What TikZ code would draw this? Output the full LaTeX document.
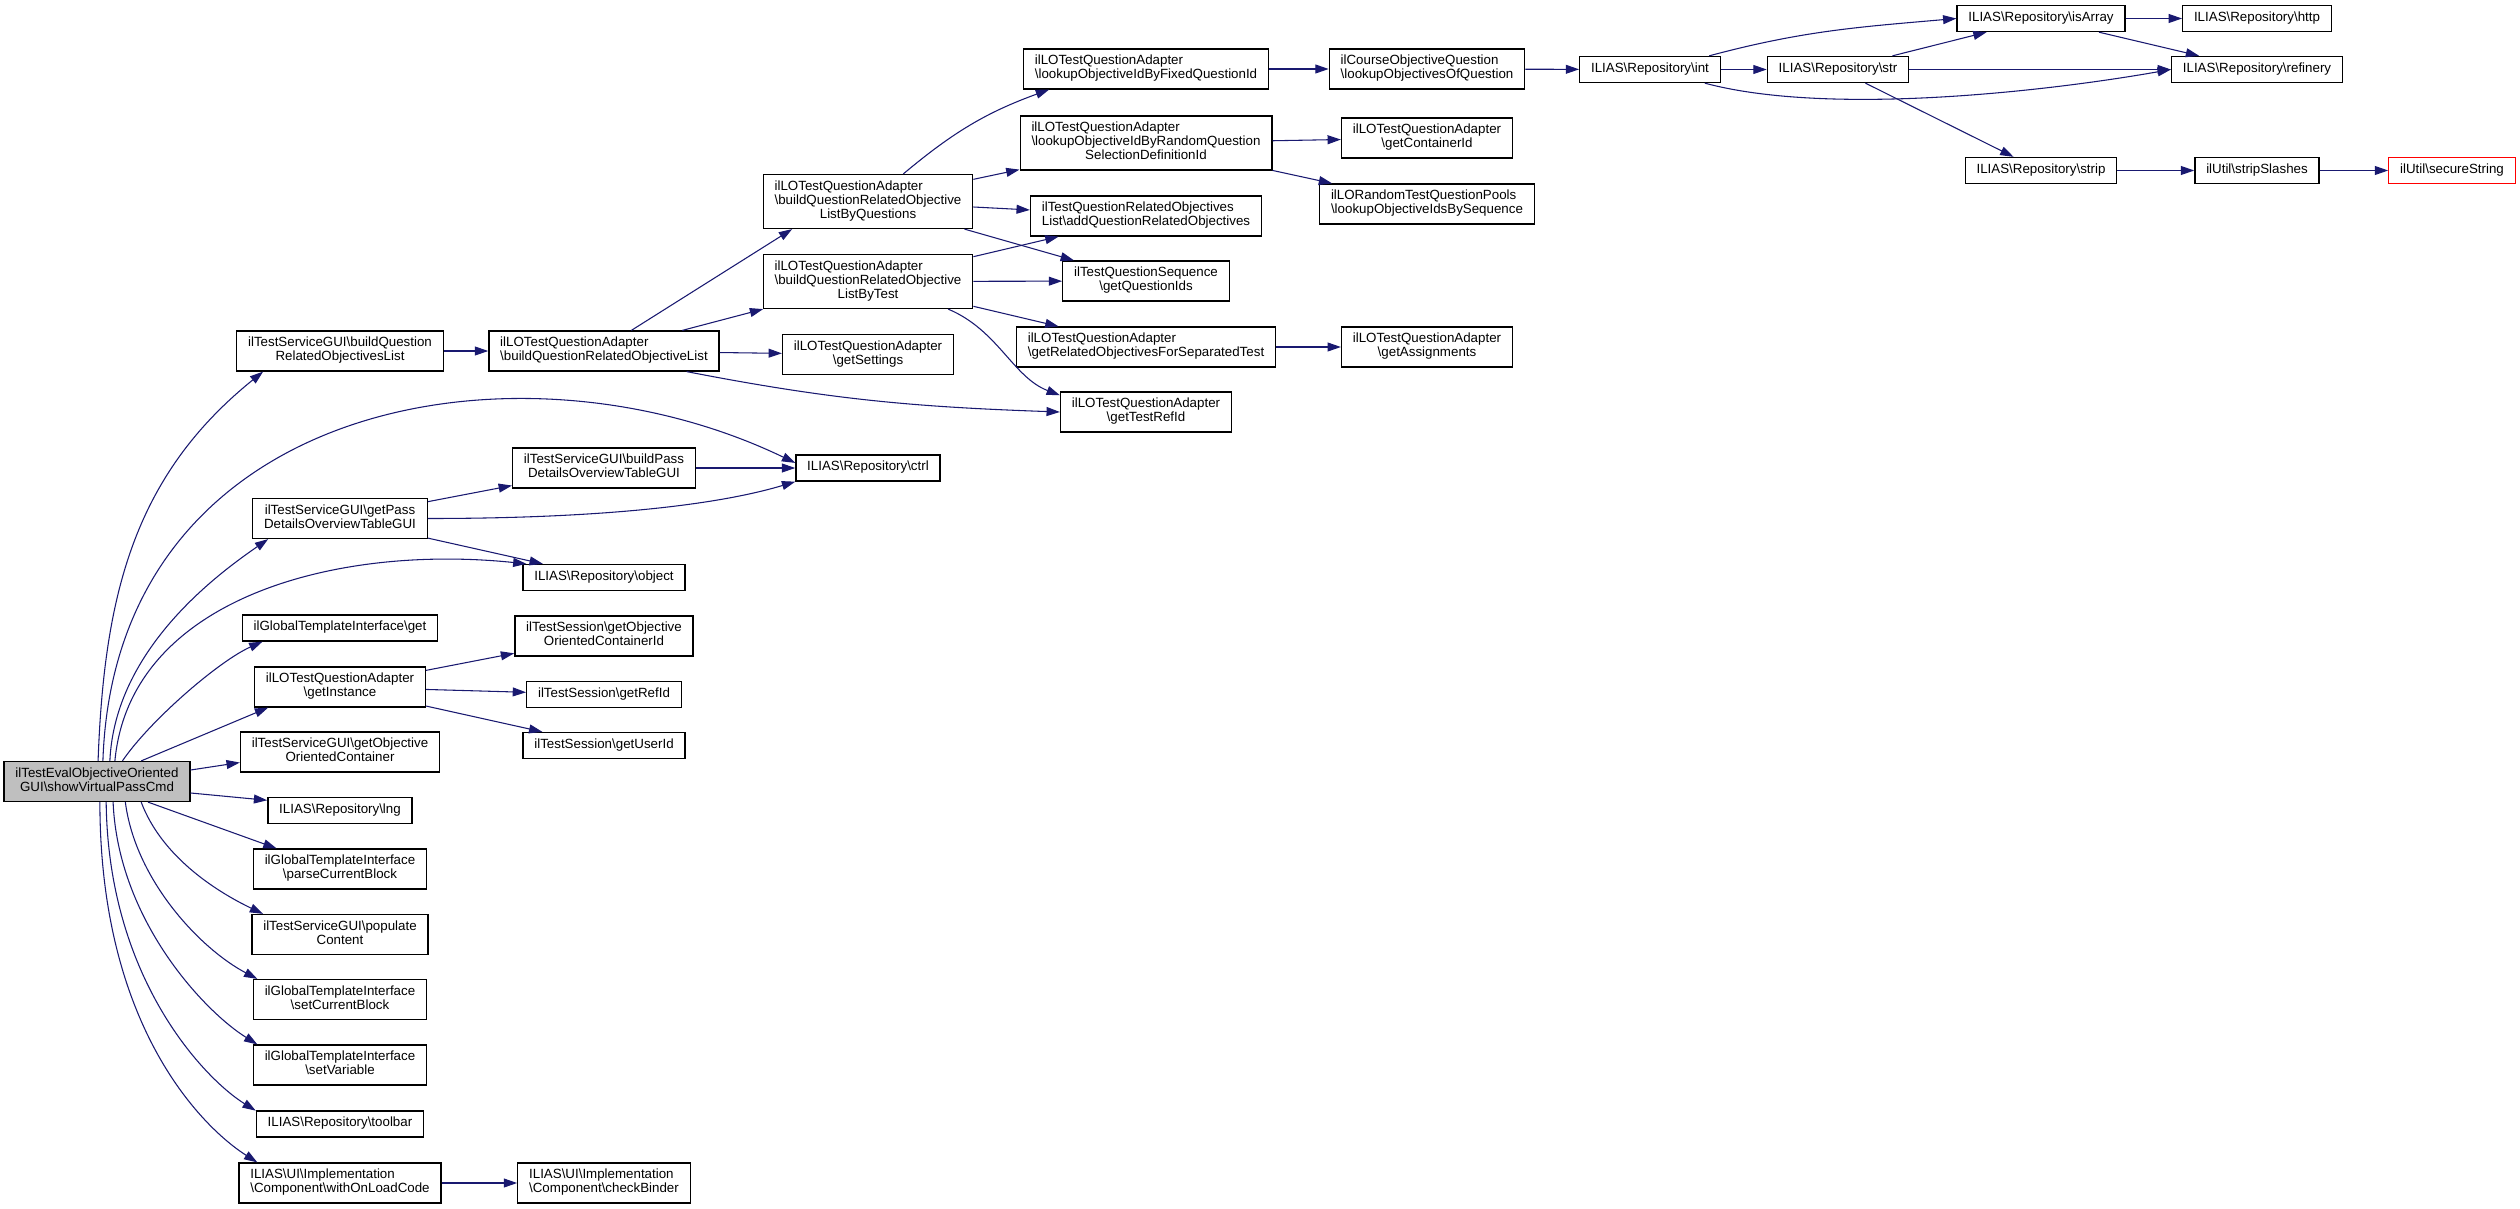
\documentclass[tikz,border=0pt]{standalone}
\usepackage{fontspec}
\setmainfont{Liberation Sans}
\usepackage{tikz}
\usetikzlibrary{arrows.meta}

\definecolor{callblue}{HTML}{191970}
\definecolor{mainfill}{HTML}{BFBFBF}
\newcommand{\bsl}{\textbackslash}
\newcommand{\lpad}[2]{\rlap{#1}\phantom{#2}}

\begin{document}
\begin{tikzpicture}[
      x=0.75pt, y=0.75pt,
      fn/.style={
        draw=black, line width=1pt, fill=white, align=center,
        font=\fontsize{10pt}{10.5pt}\selectfont,
        inner xsep=8.5pt, inner ysep=4.5pt,
        execute at begin node=\strut, execute at end node=\strut
      },
      fnl/.style={fn, align=left},
      call/.style={->, draw=callblue, line width=0.8pt},
      >={Triangle[length=10pt, width=6.7pt]}
      ]
  \useasboundingbox (0,0) rectangle (2520,-1209);

  \node[fn, fill=mainfill] (m) at (97,-781.5) {ilTestEvalObjectiveOriented\\GUI\bsl showVirtualPassCmd};

  % first level
  \node[fn]  (bqolgui)  at (340,-351)    {ilTestServiceGUI\bsl buildQuestion\\RelatedObjectivesList};
  \node[fn]  (passgui)  at (340,-518.5)  {ilTestServiceGUI\bsl getPass\\DetailsOverviewTableGUI};
  \node[fn]  (tplget)   at (340,-628)    {ilGlobalTemplateInterface\bsl get};
  \node[fn]  (instance) at (340,-687)    {ilLOTestQuestionAdapter\\\bsl getInstance};
  \node[fn]  (ocont)    at (340,-752)    {ilTestServiceGUI\bsl getObjective\\OrientedContainer};
  \node[fn]  (lng)      at (340,-810.5)  {ILIAS\bsl Repository\bsl lng};
  \node[fn]  (parse)    at (340,-869)    {ilGlobalTemplateInterface\\\bsl parseCurrentBlock};
  \node[fn]  (populate) at (340,-934.5)  {ilTestServiceGUI\bsl populate\\Content};
  \node[fn]  (setblock) at (340,-999.5)  {ilGlobalTemplateInterface\\\bsl setCurrentBlock};
  \node[fn]  (setvar)   at (340,-1065)   {ilGlobalTemplateInterface\\\bsl setVariable};
  \node[fn]  (toolbar)  at (340,-1124)   {ILIAS\bsl Repository\bsl toolbar};
  \node[fnl] (onload)   at (340,-1183)   {ILIAS\bsl UI\bsl Implementation\\\bsl Component\bsl withOnLoadCode};

  % second level
  \node[fnl] (bqol)      at (604,-351)   {ilLOTestQuestionAdapter\\\bsl buildQuestionRelatedObjectiveList};
  \node[fn]  (buildpass) at (604,-468)   {ilTestServiceGUI\bsl buildPass\\DetailsOverviewTableGUI};
  \node[fn]  (object)    at (604,-577.5) {ILIAS\bsl Repository\bsl object};
  \node[fn]  (ocontid)   at (604,-636)   {ilTestSession\bsl getObjective\\OrientedContainerId};
  \node[fn]  (refid)     at (604,-694.5) {ilTestSession\bsl getRefId};
  \node[fn]  (userid)    at (604,-745.5) {ilTestSession\bsl getUserId};
  \node[fnl] (binder)    at (604,-1183)  {ILIAS\bsl UI\bsl Implementation\\\bsl Component\bsl checkBinder};

  % third level
  \node[fn] (byquest)  at (868,-201.5) {\lpad{ilLOTestQuestionAdapter}{\bsl buildQuestionRelatedObjective}\\\bsl buildQuestionRelatedObjective\\ListByQuestions};
  \node[fn] (bytest)   at (868,-281.5) {\lpad{ilLOTestQuestionAdapter}{\bsl buildQuestionRelatedObjective}\\\bsl buildQuestionRelatedObjective\\ListByTest};
  \node[fn] (settings) at (868,-354.5) {ilLOTestQuestionAdapter\\\bsl getSettings};
  \node[fn] (ctrl)     at (868,-468)   {ILIAS\bsl Repository\bsl ctrl};

  % fourth level
  \node[fnl] (fixedq)  at (1146,-69)  {ilLOTestQuestionAdapter\\\bsl lookupObjectiveIdByFixedQuestionId};
  \node[fn]  (randomq) at (1146,-143) {\lpad{ilLOTestQuestionAdapter}{\bsl lookupObjectiveIdByRandomQuestion}\\\bsl lookupObjectiveIdByRandomQuestion\\SelectionDefinitionId};
  \node[fnl] (addrel)  at (1146,-216) {ilTestQuestionRelatedObjectives\\List\bsl addQuestionRelatedObjectives};
  \node[fn]  (qids)    at (1146,-281) {ilTestQuestionSequence\\\bsl getQuestionIds};
  \node[fnl] (septest) at (1146,-347) {ilLOTestQuestionAdapter\\\bsl getRelatedObjectivesForSeparatedTest};
  \node[fn]  (testref) at (1146,-412) {ilLOTestQuestionAdapter\\\bsl getTestRefId};

  % fifth level
  \node[fnl] (objofq) at (1427,-69)  {ilCourseObjectiveQuestion\\\bsl lookupObjectivesOfQuestion};
  \node[fn]  (contid) at (1427,-138) {ilLOTestQuestionAdapter\\\bsl getContainerId};
  \node[fnl] (byseq)  at (1427,-204) {ilLORandomTestQuestionPools\\\bsl lookupObjectiveIdsBySequence};
  \node[fn]  (assign) at (1427,-347) {ilLOTestQuestionAdapter\\\bsl getAssignments};

  % repository helpers
  \node[fn] (int)      at (1650,-69.5)  {ILIAS\bsl Repository\bsl int};
  \node[fn] (str)      at (1838,-69.5)  {ILIAS\bsl Repository\bsl str};
  \node[fn] (isarray)  at (2041,-18.5)  {ILIAS\bsl Repository\bsl isArray};
  \node[fn] (strip)    at (2041,-170.5) {ILIAS\bsl Repository\bsl strip};
  \node[fn] (http)     at (2257,-18.5)  {ILIAS\bsl Repository\bsl http};
  \node[fn] (refinery) at (2257,-69.5)  {ILIAS\bsl Repository\bsl refinery};
  \node[fn] (slashes)  at (2257,-170.5) {ilUtil\bsl stripSlashes};
  \node[fn, draw=red] (secure) at (2452,-170.5) {ilUtil\bsl secureString};

  % calls from the main function
  \draw[call] (m.87) .. controls +(6,166) and +(-129,-104) .. (bqolgui.195);
  \draw[call] (m.74) .. controls +(12,361) and +(-276,133) .. (ctrl.176);
  \draw[call] (m.58) .. controls +(5,111) and +(-52,-36) .. (passgui.196);
  \draw[call] (m.49) .. controls +(15,161) and +(-193,20) .. (object.170);
  \draw[call] (m.39) .. controls +(28,41) and +(-43,-19) .. (tplget.190);
  \draw[call] (m.25) -- (instance.196);
  \draw[call] (m.7) -- (ocont.186);
  \draw[call] (m.-7) -- (lng.172);
  \draw[call] (m.-22) -- (parse.162);
  \draw[call] (m.-25) .. controls +(20,-53) and +(-50,24) .. (populate.165);
  \draw[call] (m.-36) .. controls +(10,-78) and +(-57,30) .. (setblock.166);
  \draw[call] (m.-52) .. controls +(5,-118) and +(-53,33) .. (setvar.166);
  \draw[call] (m.-66) .. controls +(2,-178) and +(-50,31) .. (toolbar.171);
  \draw[call] (m.-82) .. controls +(0,-228) and +(-52,33) .. (onload.166);

  % Connect the rest
  \draw[call] (bqolgui) -- (bqol);
  \draw[call] (bqol.37) -- (byquest.200);
  \draw[call] (bqol) -- (bytest);
  \draw[call] (bqol) -- (settings);
  \draw[call] (bqol.-14) to[out=-11, in=178] (testref.west);
  \draw[call] (passgui) -- (buildpass);
  \draw[call] (passgui.east) .. controls +(170,0) and +(-80,-24) .. (ctrl.south west);
  \draw[call] (passgui) -- (object);
  \draw[call] (buildpass) -- (ctrl);
  \draw[call] (instance) -- (ocontid);
  \draw[call] (instance) -- (refid);
  \draw[call] (instance) -- (userid);
  \draw[call] (onload) -- (binder);

  \draw[call] (byquest.38) to[out=40, in=200] (fixedq.192);
  \draw[call] (byquest) -- (randomq);
  \draw[call] (byquest) -- (addrel);
  \draw[call] (byquest) -- (qids);
  \draw[call] (bytest) -- (addrel);
  \draw[call] (bytest) -- (qids);
  \draw[call] (bytest) -- (septest);
  \draw[call] (bytest.-19) .. controls +(50,-21) and +(-47,18) .. (testref.169);

  \draw[call] (fixedq) -- (objofq);
  \draw[call] (randomq) -- (contid);
  \draw[call] (randomq) -- (byseq);
  \draw[call] (septest) -- (assign);
  \draw[call] (objofq) -- (int);

  \draw[call] (int.13) to[out=15, in=185] (isarray.west);
  \draw[call] (int) -- (str);
  \draw[call] (int.-14) to[out=-15, in=190, looseness=0.7] (refinery.west);
  \draw[call] (str) -- (isarray);
  \draw[call] (str) -- (refinery);
  \draw[call] (str) -- (strip);
  \draw[call] (isarray) -- (http);
  \draw[call] (isarray) -- (refinery);
  \draw[call] (strip) -- (slashes);
  \draw[call] (slashes) -- (secure);
  %\draw[call] (strip) -- (secure);
\end{tikzpicture}
\end{document}
